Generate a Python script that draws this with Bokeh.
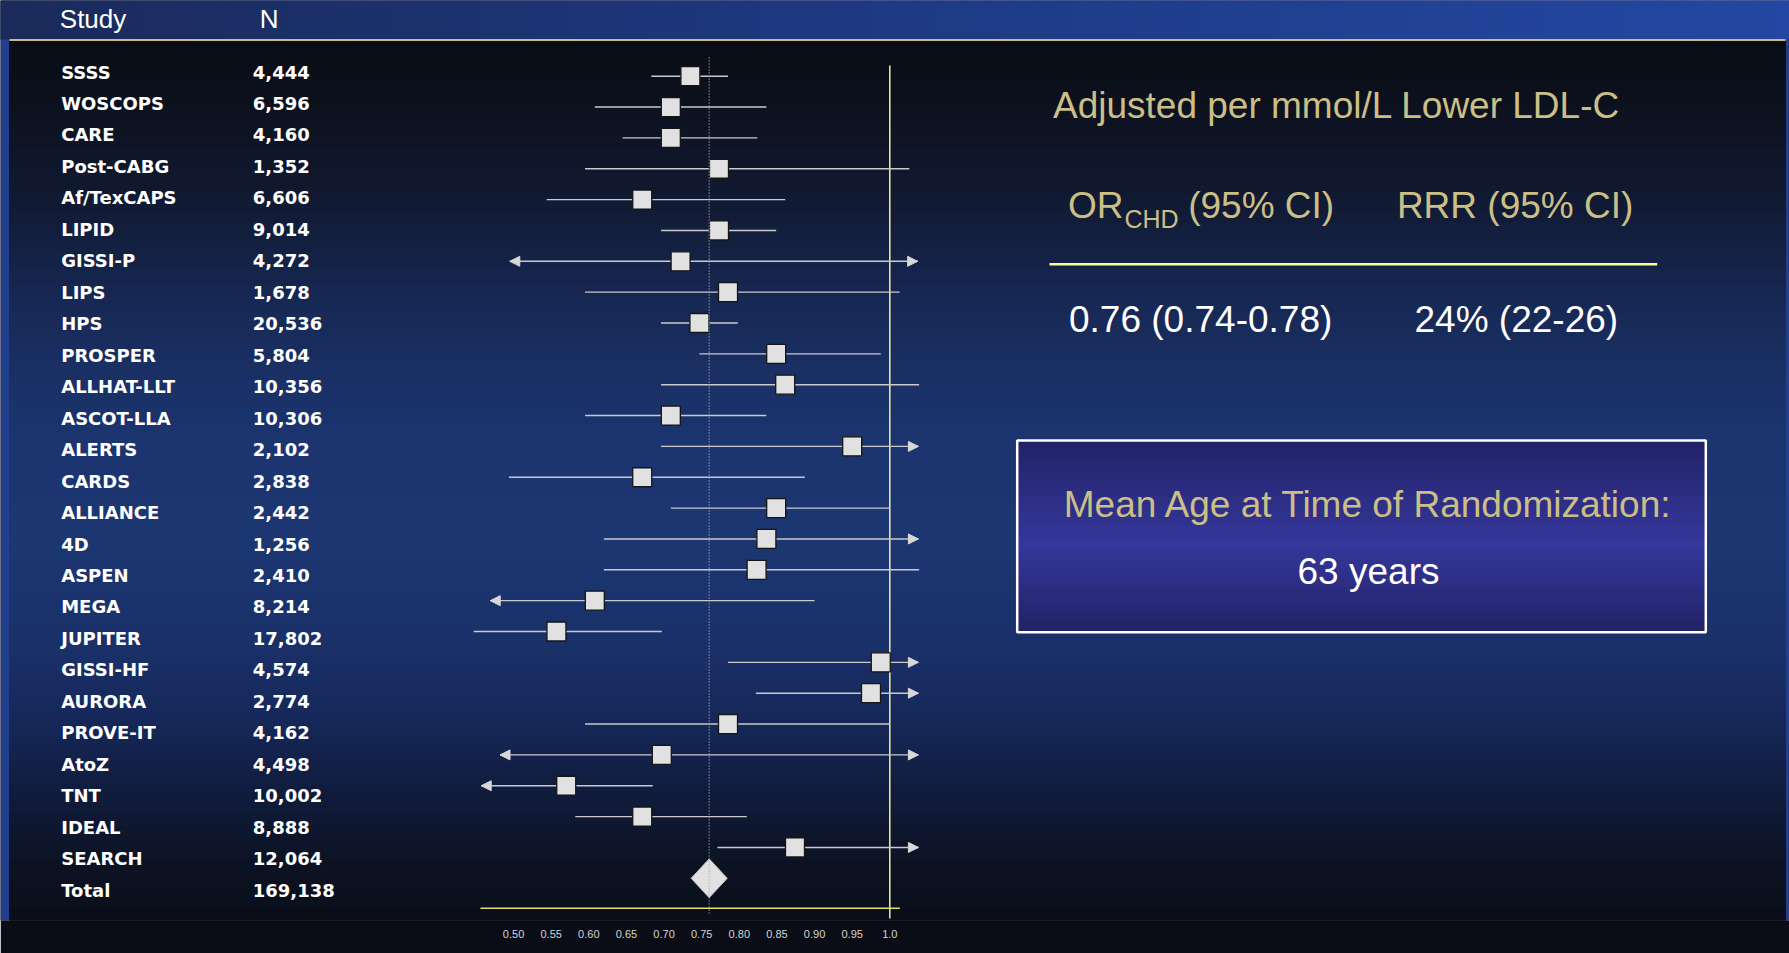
import numpy as np
from bokeh.plotting import figure
from bokeh.models import (Range1d, LinearAxis, FixedTicker, CustomJSTickFormatter,
                          Arrow, NormalHead, ColumnDataSource)
from bokeh.core.properties import value
from bokeh.embed import file_html
from bokeh.resources import INLINE

# ---------------- data ----------------
studies = ["SSSS", "WOSCOPS", "CARE", "Post-CABG", "Af/TexCAPS", "LIPID", "GISSI-P",
           "LIPS", "HPS", "PROSPER", "ALLHAT-LLT", "ASCOT-LLA", "ALERTS", "CARDS",
           "ALLIANCE", "4D", "ASPEN", "MEGA", "JUPITER", "GISSI-HF", "AURORA",
           "PROVE-IT", "AtoZ", "TNT", "IDEAL", "SEARCH"]
n_patients = [4444, 6596, 4160, 1352, 6606, 9014, 4272, 1678, 20536, 5804, 10356,
              10306, 2102, 2838, 2442, 1256, 2410, 8214, 17802, 4574, 2774, 4162,
              4498, 10002, 8888, 12064]
odds_ratio = [0.735, 0.709, 0.709, 0.773, 0.671, 0.773, 0.722, 0.785, 0.747, 0.849,
              0.861, 0.709, 0.950, 0.671, 0.849, 0.836, 0.823, 0.608, 0.557, 0.988,
              0.975, 0.785, 0.697, 0.570, 0.671, 0.874]
ci_low = [0.683, 0.608, 0.645, 0.595, 0.544, 0.696, 0.495, 0.595, 0.696, 0.747,
          0.696, 0.595, 0.696, 0.494, 0.709, 0.620, 0.620, 0.469, 0.447, 0.785,
          0.822, 0.595, 0.482, 0.457, 0.582, 0.771]
ci_high = [0.785, 0.836, 0.824, 1.026, 0.861, 0.849, 1.037, 1.013, 0.798, 0.988,
           1.039, 0.836, 1.038, 0.887, 1.000, 1.038, 1.039, 0.900, 0.697, 1.038,
           1.038, 1.000, 1.038, 0.685, 0.810, 1.038]
arrow_low = [False, False, False, False, False, False, True, False, False, False,
             False, False, False, False, False, False, False, True, False, False,
             False, False, True, True, False, False]
arrow_high = [False, False, False, False, False, False, True, False, False, False,
              False, False, True, False, False, True, False, False, False, True,
              True, False, True, False, False, True]
total_label = "Total"
total_n = 169138
total_or = 0.76
total_low = 0.736
total_high = 0.784
tick_values = [0.50, 0.55, 0.60, 0.65, 0.70, 0.75, 0.80, 0.85, 0.90, 0.95, 1.0]

header_study = "Study"
header_n = "N"
headline = "Adjusted per mmol/L Lower LDL-C"
or_head, or_sub, or_tail = "OR", "CHD", "(95% CI)"
rrr_head = "RRR (95% CI)"
or_result = "0.76 (0.74-0.78)"
rrr_result = "24% (22-26)"
age_title = "Mean Age at Time of Randomization:"
age_value = "63 years"

# ---------------- layout (reference pixel space) ----------------
W, H = 1789, 953
FRAME_BOTTOM = 920
PANEL_L, PANEL_R = 9, 1785
PX_PER_OR = 752.5
X_ONE = 889.3
ROW0_Y = 75.7
ROW_DY = 30.85
LABEL0_Y = 72.5
LABEL_DY = 31.47

KHAKI = "#cbbf87"
LIGHT = "#e1e1e1"
LINE = "#cacaca"
FRAME_BLUE = "#213f8c"

x_start = 1.0 - X_ONE / PX_PER_OR
x_end = 1.0 + (W - X_ONE) / PX_PER_OR
y_bottom = (FRAME_BOTTOM - ROW0_Y) / ROW_DY
y_top = (0 - ROW0_Y) / ROW_DY

p = figure(width=W, height=H, x_range=Range1d(x_start, x_end),
           y_range=Range1d(y_bottom, y_top), output_backend="svg",
           toolbar_location=None, x_axis_type=None, y_axis_type=None,
           min_border_left=0, min_border_right=0, min_border_top=0,
           min_border_bottom=H - FRAME_BOTTOM,
           background_fill_color="#0a0d16", border_fill_color="#0a0d16",
           outline_line_color=None)
p.extra_x_ranges = {"px": Range1d(0, W)}
p.extra_y_ranges = {"py": Range1d(FRAME_BOTTOM, 0)}
PXY = dict(x_range_name="px", y_range_name="py")


def hex2rgb(h):
    return tuple(int(h[i:i + 2], 16) for i in (1, 3, 5))


def gradient(stops, pos):
    sp = [s[0] for s in stops]
    cols = np.array([hex2rgb(s[1]) for s in stops], float)
    out = []
    for v in pos:
        r, g, b = (np.interp(v, sp, cols[:, k]) for k in range(3))
        out.append("#%02x%02x%02x" % (int(round(r)), int(round(g)), int(round(b))))
    return out


# header band (horizontal gradient)
hx = np.arange(0, W + 6, 6.0)
hcol = gradient([(0, "#1a2a5a"), (900, "#1e3a84"), (1789, "#2347a2")],
                (hx[:-1] + hx[1:]) / 2)
p.quad(left=hx[:-1], right=hx[1:], top=0, bottom=39.5, fill_color=hcol,
       line_color=hcol, line_width=1, **PXY)
# blue slide frame on the sides
p.quad(left=[0, PANEL_R], right=[PANEL_L, W], top=39, bottom=FRAME_BOTTOM,
       fill_color=FRAME_BLUE, line_color=None, **PXY)

# dark panel (vertical gradient)
py_edges = np.arange(40.5, FRAME_BOTTOM + 3, 3.0)
pcol = gradient([(40, "#0a0d15"), (100, "#0c111d"), (200, "#111a33"),
                 (300, "#172854"), (370, "#1a3064"), (450, "#1c3571"),
                 (550, "#1c3672"), (650, "#1a3068"), (720, "#16285a"),
                 (800, "#101b3a"), (870, "#0c1222"), (945, "#0a0d16")],
                (py_edges[:-1] + py_edges[1:]) / 2)
p.quad(left=PANEL_L, right=PANEL_R, top=py_edges[:-1], bottom=py_edges[1:],
       fill_color=pcol, line_color=pcol, line_width=1, **PXY)

# header rule
p.segment(x0=PANEL_L, x1=PANEL_R, y0=39.5, y1=39.5, line_color="#c9bb8a",
          line_width=2, **PXY)

# headers (y = vertical centre of capitals)
p.text(x=[59.3, 259.3], y=[18.3, 18.3], text=[header_study, header_n],
       text_font=value("Liberation Sans"), text_font_size="26px", text_color="white",
       text_baseline="middle", **PXY)

# study labels + N
all_names = studies + [total_label]
all_n = [f"{n:,}" for n in n_patients + [total_n]]
label_y = [LABEL0_Y - 1 + i * LABEL_DY for i in range(len(all_names))]
p.text(x=60.7, y=label_y, text=all_names, text_font=value("DejaVu Sans"),
       text_font_style="bold", text_font_size="18px", text_color="white",
       text_baseline="middle", **PXY)
p.text(x=252.3, y=label_y, text=all_n, text_font=value("DejaVu Sans"),
       text_font_style="bold", text_font_size="18px", text_color="white",
       text_baseline="middle", **PXY)

# ---------------- forest plot ----------------
rows = np.arange(len(studies))
src = ColumnDataSource(dict(row=rows, orv=odds_ratio, lo=ci_low, hi=ci_high))

# reference line at 1.0
p.segment(x0=1.0, x1=1.0, y0=65, y1=918, y_range_name="py",
          line_color="#f4eea6", line_width=1.5)
# axis baseline
p.segment(x0=480, x1=899.3, y0=907.7, y1=907.7, line_color="#e6df6a",
          line_width=1.6, **PXY)

# CI lines
p.segment(x0="lo", x1="hi", y0="row", y1="row", source=src,
          line_color=LINE, line_width=1.4)

# arrow heads
ax_s, ax_e, ay = [], [], []
for i in range(len(studies)):
    if arrow_low[i]:
        ax_s.append(odds_ratio[i]); ax_e.append(ci_low[i]); ay.append(i)
    if arrow_high[i]:
        ax_s.append(odds_ratio[i]); ax_e.append(ci_high[i]); ay.append(i)
asrc = ColumnDataSource(dict(xs=ax_s, xe=ax_e, ys=ay, ye=ay))
p.add_layout(Arrow(end=NormalHead(size=10, fill_color="#d8d8d8", line_color="#d8d8d8",
                                  line_width=1),
                   x_start="xs", y_start="ys", x_end="xe", y_end="ye",
                   source=asrc, line_alpha=0))

# squares
p.scatter(x="orv", y="row", source=src, marker="square", size=19,
          fill_color=LIGHT, line_color="#151515", line_width=1.3)

# total diamond
ty = len(studies)
p.patch(x=[total_low, total_or, total_high, total_or],
        y=[ty, ty - 0.63, ty, ty + 0.63], fill_color=LIGHT, line_color="#bdbdbd",
        line_width=1)

# dotted pooled line
p.segment(x0=total_or, x1=total_or, y0=57, y1=913, y_range_name="py",
          line_color="#a8a8a8", line_width=1.3, line_dash="1 2")

# x axis
axis = LinearAxis(ticker=FixedTicker(ticks=tick_values),
                  formatter=CustomJSTickFormatter(
                      code="return tick > 0.999 ? '1.0' : tick.toFixed(2);"),
                  axis_line_color=None, major_tick_line_color=None,
                  minor_tick_line_color=None, major_tick_in=0, major_tick_out=0,
                  major_label_standoff=9, major_label_text_color="#d4d4d4",
                  major_label_text_font_size="11px",
                  major_label_text_font="Liberation Sans")
p.add_layout(axis, "below")

# ---------------- right panel (y = vertical centre of capitals) ----------------
FONT = value("Liberation Sans")
p.text(x=[1052.5], y=[104.5], text=[headline], text_font=FONT, text_font_size="37px",
       text_color=KHAKI, text_baseline="middle", **PXY)
p.text(x=[1067.5, 1187.7, 1396.4], y=[204.8, 204.8, 204.8],
       text=[or_head, or_tail, rrr_head], text_font=FONT, text_font_size="37px",
       text_color=KHAKI, text_baseline="middle", **PXY)
p.text(x=[1124], y=[218.7], text=[or_sub], text_font=FONT, text_font_size="25px",
       text_color=KHAKI, text_baseline="middle", **PXY)
p.segment(x0=1049, x1=1656.7, y0=263.7, y1=263.7, line_color="#ffff8c",
          line_width=2.5, **PXY)
p.text(x=[1068.5, 1414], y=[318.6, 318.6], text=[or_result, rrr_result],
       text_font=FONT, text_font_size="37px", text_color="white",
       text_baseline="middle", **PXY)

# box with gradient
by = np.arange(440, 632.01, 2.0)
bcol = gradient([(440, "#222266"), (545, "#35379b"), (632, "#222266")],
                (by[:-1] + by[1:]) / 2)
p.quad(left=1016.7, right=1705.3, top=by[:-1], bottom=by[1:], fill_color=bcol,
       line_color=bcol, line_width=1, **PXY)
p.quad(left=1016.7, right=1705.3, top=440, bottom=631.7, fill_color=None,
       line_color="white", line_width=2.5, **PXY)
p.text(x=[1368], y=[503.9], text=[age_title], text_font=FONT, text_font_size="37px",
       text_color=KHAKI, text_align="center", text_baseline="middle", **PXY)
p.text(x=[1368], y=[571.2], text=[age_value], text_font=FONT, text_font_size="37px",
       text_color="white", text_align="center", text_baseline="middle", **PXY)

open("out.html", "w").write(file_html(p, INLINE))
